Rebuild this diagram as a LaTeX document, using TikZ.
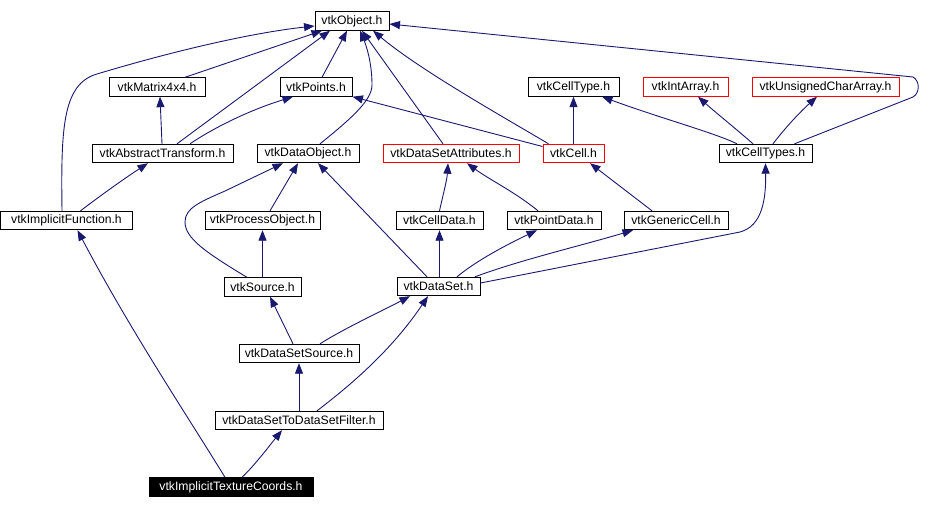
\documentclass[tikz,border=0pt]{standalone}
\usepackage{fontspec}
\setmainfont{Liberation Sans}
\usetikzlibrary{arrows.meta}
\definecolor{edgeblue}{RGB}{25,25,112}
\begin{document}
\begin{tikzpicture}[x=1pt,y=-1pt,
  box/.style={draw=black,line width=0.9pt,rectangle,inner sep=0pt,minimum height=18.5pt,
    font=\fontsize{12.2}{14}\selectfont,text=black},
  redbox/.style={box,draw=red},
  curbox/.style={box,fill=black,text=white},
  edge/.style={draw=edgeblue,line width=0.9pt,-{Triangle[length=10.5pt,width=8pt]}}]
\useasboundingbox (0,0) rectangle (952,509);
% nodes
\node[box,minimum width=74pt] (obj) at (352,21) {vtkObject.h};
\node[box,minimum width=96pt] (mat) at (157,87) {vtkMatrix4x4.h};
\node[box,minimum width=72pt] (pts) at (316,87) {vtkPoints.h};
\node[box,minimum width=91pt] (celltype) at (573.5,87) {vtkCellType.h};
\node[redbox,minimum width=85pt] (intarr) at (685.5,87) {vtkIntArray.h};
\node[redbox,minimum width=147pt] (uchar) at (825.5,87) {vtkUnsignedCharArray.h};
\node[box,minimum width=141pt] (abst) at (162.5,153.5) {vtkAbstractTransform.h};
\node[box,minimum width=102pt] (dobj) at (308,153.5) {vtkDataObject.h};
\node[redbox,minimum width=136pt] (dsattr) at (451,153.5) {vtkDataSetAttributes.h};
\node[redbox,minimum width=61pt] (cell) at (573.5,153.5) {vtkCell.h};
\node[box,minimum width=93pt] (celltypes) at (765.5,153.5) {vtkCellTypes.h};
\node[box,minimum width=132pt] (impfn) at (66.5,220.5) {vtkImplicitFunction.h};
\node[box,minimum width=115pt] (proc) at (262.5,220.5) {vtkProcessObject.h};
\node[box,minimum width=87pt] (celldata) at (439.5,220.5) {vtkCellData.h};
\node[box,minimum width=94pt] (ptdata) at (554,220.5) {vtkPointData.h};
\node[box,minimum width=104pt] (gencell) at (676,220.5) {vtkGenericCell.h};
\node[box,minimum width=77pt] (src) at (262.5,287) {vtkSource.h};
\node[box,minimum width=83pt] (ds) at (438.5,286.5) {vtkDataSet.h};
\node[box,minimum width=120pt] (dss) at (299,353.5) {vtkDataSetSource.h};
\node[box,minimum width=168pt] (filt) at (299,420.5) {vtkDataSetToDataSetFilter.h};
\node[curbox,minimum width=164pt] (itc) at (231,487) {vtkImplicitTextureCoords.h};
% edges
\draw[edge] ([xshift=-4.5pt]impfn.north) .. controls (61,130) and (62,84) .. (97,74)
   .. controls (170,52) and (250,33) .. ([yshift=-5pt]obj.west);
\draw[edge] ([xshift=28pt]mat.north) -- ([xshift=-30pt]obj.south);
\draw[edge] ([xshift=14.5pt]abst.north) -- ([xshift=-22pt]obj.south);
\draw[edge] ([xshift=27.5pt]abst.north) .. controls (215,127) and (250,110) .. ([xshift=-23pt]pts.south);
\draw[edge] ([xshift=-0.5pt]abst.north) -- ([xshift=3pt]mat.south);
\draw[edge] ([xshift=6pt]pts.north) -- ([xshift=-5pt]obj.south);
\draw[edge] ([xshift=12pt]dobj.north) .. controls (352,118) and (372,100) .. (372,85)
   .. controls (372,62) and (366,45) .. ([xshift=8pt]obj.south);
\draw[edge] ([xshift=-8pt]dsattr.north) -- ([xshift=10pt]obj.south);
\draw[edge] ([xshift=-25pt]cell.north) .. controls (500,115) and (420,70) .. ([xshift=21pt]obj.south);
\draw[edge] ([xshift=29pt]celltypes.north) -- (913,97) .. controls (920,93) and (920,81) .. (913,77)
   -- ([yshift=-3pt]obj.east);
\draw[edge] ([yshift=7pt]cell.west) -- (pts.south east);
\draw[edge] (cell.north) -- (celltype.south);
\draw[edge] ([xshift=-28.5pt]celltypes.north) .. controls (715,133) and (660,118) .. ([xshift=28.5pt]celltype.south);
\draw[edge] ([xshift=-12.5pt]celltypes.north) .. controls (735,128) and (715,112) .. ([xshift=12.5pt]intarr.south);
\draw[edge] ([xshift=7.5pt]celltypes.north) .. controls (785,128) and (800,112) .. ([xshift=-8.5pt]uchar.south);
\draw[edge] ([xshift=14pt]impfn.north) .. controls (100,196) and (125,178) .. ([xshift=-14.5pt]abst.south);
\draw[edge] ([xshift=7.5pt]proc.north) -- ([xshift=-10pt]dobj.south);
\draw[edge] ([xshift=-15.5pt]src.north) .. controls (205,252) and (185,238) .. (185,222)
   .. controls (185,208) and (200,202) .. (225,191) -- ([xshift=-25pt]dobj.south);
\draw[edge] ([xshift=-11.5pt]ds.north) -- ([xshift=10pt]dobj.south);
\draw[edge] (src.north) -- (proc.south);
\draw[edge] (celldata.north) .. controls (443,195) and (447,180) .. ([xshift=-3pt]dsattr.south);
\draw[edge] ([xshift=-16pt]ptdata.north) .. controls (515,192) and (490,180) .. ([xshift=16pt]dsattr.south);
\draw[edge] ([xshift=-24pt]gencell.north) -- ([xshift=16.5pt]cell.south);
\draw[edge] (ds.north -| celldata.south) -- (celldata.south);
\draw[edge] ([xshift=18.5pt]ds.north) .. controls (475,262) and (500,248) .. ([xshift=-17pt]ptdata.south);
\draw[edge] ([xshift=36.5pt]ds.north) .. controls (520,260) and (580,246) .. ([xshift=-43pt]gencell.south);
\draw[edge] ([yshift=3.5pt]ds.east) -- (740,232) .. controls (762,226) and (766,200) .. (celltypes.south);
\draw[edge] ([xshift=-6pt]dss.north) -- ([xshift=7.5pt]src.south);
\draw[edge] ([xshift=21pt]dss.north) .. controls (345,328) and (380,312) .. ([xshift=-28.5pt]ds.south);
\draw[edge] ([xshift=18pt]filt.north) .. controls (360,378) and (395,345) .. ([xshift=-10.5pt]ds.south);
\draw[edge] (filt.north) -- (dss.south);
\draw[edge] ([xshift=-6pt]itc.north) .. controls (190,420) and (130,330) .. ([xshift=11pt]impfn.south);
\draw[edge] ([xshift=11pt]itc.north) .. controls (255,465) and (270,445) .. ([xshift=-17pt]filt.south);
\end{tikzpicture}
\end{document}
